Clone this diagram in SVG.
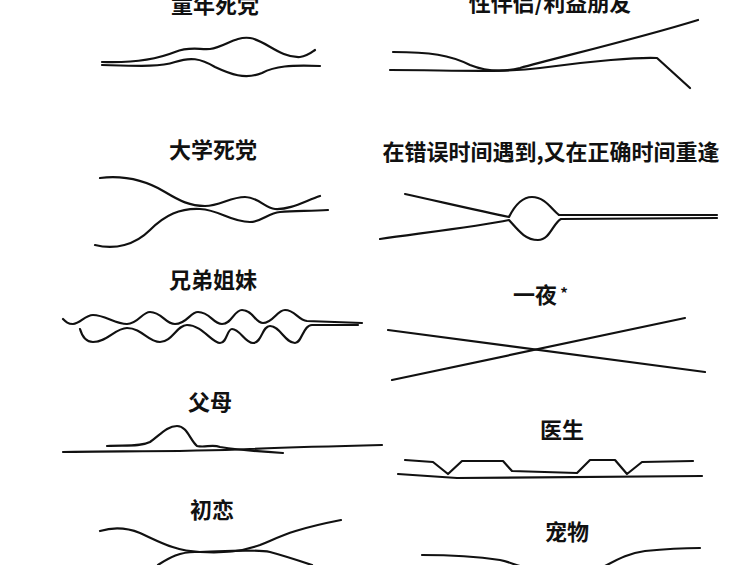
<svg xmlns="http://www.w3.org/2000/svg" width="753" height="565" viewBox="0 0 753 565">
<style>
.t{font-family:"Noto Sans CJK SC","Noto Sans",sans-serif;font-weight:bold;font-size:22px;fill:#111;text-anchor:middle}
.l{fill:none;stroke:#111;stroke-width:2.2;stroke-linecap:round;stroke-linejoin:round}
</style>
<rect width="753" height="565" fill="#fff"/>
<g id="childhood">
<text class="t" x="215" y="13">童年死党</text>
<path class="l" d="M102,62 C130,63 155,60 175,52 C190,46 200,50 210,49 C225,47 235,36 250,38 C265,40 280,58 300,57 C308,56 312,52 315,50"/>
<path class="l" d="M102,65 C140,66 160,67 175,62 C190,57 200,58 215,67 C230,74 245,80 262,73 C275,66 290,65 320,66"/>
</g>
<g id="fwb">
<text class="t" x="550" y="11">性伴侣/利益朋友</text>
<path class="l" d="M393,52 C430,52 450,55 470,65 C485,71 500,73 520,68 C560,57 640,38 698,20"/>
<path class="l" d="M390,70 C450,70 500,73 540,68 C590,61 640,57 657,58 L690,88"/>
</g>
<g id="college">
<text class="t" x="213" y="158">大学死党</text>
<path class="l" d="M100,178 C125,175 145,180 165,192 C180,201 190,206 205,206 C220,206 230,197 245,197 C258,197 265,208 275,209 C290,210 305,201 320,196"/>
<path class="l" d="M95,245 C115,250 135,245 150,230 C165,215 180,208 200,209 C220,210 230,222 250,222 C262,222 268,213 280,212 C295,211 310,211 328,210"/>
</g>
<g id="wrongtime">
<text class="t" x="551" y="160">在错误时间遇到,又在正确时间重逢</text>
<path class="l" d="M405,194 C450,204 480,211 509,217 C515,205 522,197 532,197 C545,197 552,210 559,215 L717,215"/>
<path class="l" d="M380,239 C430,232 480,226 509,220 C518,230 525,240 538,240 C550,240 553,223 561,219 L717,218"/>
</g>
<g id="siblings">
<text class="t" x="213" y="288">兄弟姐妹</text>
<path class="l" d="M63,319 C66,322 68,324 73,324 C80,324 85,315 93,315 C105,315 115,324 127,324 C138,324 142,312 150,312 C162,312 165,324 175,324 C187,324 190,312 198,312 C210,312 213,324 222,324 C232,324 234,310 242,310 C253,310 255,323 263,323 C273,323 277,310 285,310 C295,310 298,320 307,321 L362,323"/>
<path class="l" d="M80,329 C82,336 86,342 93,342 C108,342 115,328 127,328 C142,328 148,342 160,342 C172,342 177,325 187,325 C202,325 212,343 220,343 C227,343 227,329 232,329 C240,329 245,343 253,343 C262,343 262,326 270,326 C280,326 285,343 295,343 C302,343 303,325 312,325 L358,325"/>
</g>
<g id="onenight">
<text class="t" x="535" y="303">一夜</text><text class="t" x="564" y="299" style="font-size:15px">*</text>
<path class="l" d="M388,330 L705,372"/>
<path class="l" d="M392,380 L685,318"/>
</g>
<g id="parents">
<text class="t" x="210" y="410">父母</text>
<path class="l" d="M63,452 C120,451 183,452 250,449 C300,447 340,446 382,445"/>
<path class="l" d="M107,446 C125,445 140,447 150,442 C160,435 167,426 177,426 C187,426 190,440 197,446 C205,448 212,444 220,447 C240,450 265,452 283,453"/>
</g>
<g id="doctor">
<text class="t" x="562" y="438">医生</text>
<path class="l" d="M405,460 L433,462 L448,474 L462,461 L503,461 L512,471 L577,473 L590,460 L615,460 L627,474 L642,462 L693,461"/>
<path class="l" d="M398,474 L457,478 L702,476"/>
</g>
<g id="firstlove">
<text class="t" x="212" y="518">初恋</text>
<path class="l" d="M100,531 C110,528 125,527 140,533 C160,542 175,551 200,552 C225,553 240,552 260,545 C280,537 290,530 341,520"/>
<path class="l" d="M158,565 C170,557 180,552 195,552 C230,551 255,549 270,552 C285,556 300,561 312,565"/>
</g>
<g id="pet">
<text class="t" x="567" y="540">宠物</text>
<path class="l" d="M422,555 C450,555 480,557 500,560 C510,562 515,565 520,566"/>
<path class="l" d="M605,566 C620,558 630,553 645,551 C665,549 685,548 700,548"/>
</g>
</svg>
